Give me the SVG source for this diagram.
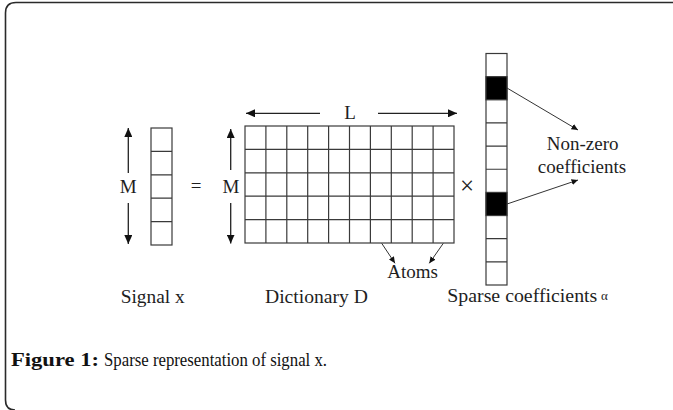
<svg xmlns="http://www.w3.org/2000/svg" width="673" height="410" viewBox="0 0 673 410">
<style>
.t{font-family:"Liberation Serif","Times New Roman",serif;font-size:19px;fill:#1e1e1e}
.cap{font-family:"Liberation Serif","Times New Roman",serif;font-size:19px;fill:#111}
.cell{fill:#fff;stroke:#3a3a3a;stroke-width:1.2}
.blk{fill:#000;stroke:#3a3a3a;stroke-width:1.2}
.grid{stroke:#3a3a3a;stroke-width:1.2;fill:none}
.ar{stroke:#222;stroke-width:1.3;fill:none}
.arS{stroke:#333;stroke-width:1;fill:none}
</style>
<defs>
<marker id="big" markerUnits="userSpaceOnUse" markerWidth="10" markerHeight="8" refX="9" refY="4" orient="auto">
<path d="M0,0 L9,4 L0,8 Z" fill="#111"/>
</marker>
<marker id="sm" markerUnits="userSpaceOnUse" markerWidth="7" markerHeight="6" refX="6.5" refY="3" orient="auto">
<path d="M0,0 L6.5,3 L0,6 Z" fill="#111"/>
</marker>
</defs>
<rect width="673" height="410" fill="#fff"/>
<path d="M15 410 Q5.5 410 5.5 400 L5.5 13 Q5.5 2.5 16 2.5 L673 2.5" fill="none" stroke="#2a2a2a" stroke-width="1.6"/>

<g id="signal">
<rect class="cell" x="151" y="128" width="21" height="117"/>
<path class="grid" d="M151 151.4H172M151 174.8H172M151 198.2H172M151 221.6H172"/>
<text class="t" x="128.3" y="193.3" text-anchor="middle">M</text>
<text class="t" x="120.7" y="303" textLength="64" lengthAdjust="spacingAndGlyphs">Signal x</text>
</g>

<g id="equals">
<text class="t" x="196" y="192" text-anchor="middle">=</text>
</g>

<g id="dictionary">
<rect class="cell" x="245" y="126" width="209" height="117"/>
<path class="grid" d="M265.9 126V243M286.8 126V243M307.7 126V243M328.6 126V243M349.5 126V243M370.4 126V243M391.3 126V243M412.2 126V243M433.1 126V243M245 149.4H454M245 172.8H454M245 196.2H454M245 219.6H454"/>
<text class="t" x="231" y="193.3" text-anchor="middle">M</text>
<text class="t" x="350" y="119.3" text-anchor="middle">L</text>
<text class="t" x="265" y="303" textLength="103" lengthAdjust="spacingAndGlyphs">Dictionary D</text>
</g>

<g id="times">
<text class="t" x="467" y="194" text-anchor="middle" style="font-size:25px">×</text>
</g>

<g id="sparse">
<rect class="cell" x="486" y="53.5" width="21" height="231.5"/>
<rect class="blk" x="486" y="76.65" width="21" height="23.15"/>
<rect class="blk" x="486" y="192.4" width="21" height="23.15"/>
<path class="grid" d="M486 122.95H507M486 146.1H507M486 169.25H507M486 238.7H507M486 261.85H507"/>
<text class="t" x="447.3" y="302" textLength="150" lengthAdjust="spacingAndGlyphs">Sparse coefficients</text>
<text class="t" x="601" y="300" style="font-size:13px">α</text>
</g>

<g id="nonzero">
<text class="t" x="582.7" y="150" text-anchor="middle">Non-zero</text>
<text class="t" x="582" y="173" text-anchor="middle">coefficients</text>
</g>

<g id="atoms">
<text class="t" x="412.5" y="278" text-anchor="middle">Atoms</text>
</g>

<g id="connectors">
<line class="ar" x1="128.3" y1="173" x2="128.3" y2="128" marker-end="url(#big)"/>
<line class="ar" x1="128.3" y1="203" x2="128.3" y2="244" marker-end="url(#big)"/>
<line class="ar" x1="230.7" y1="170" x2="230.7" y2="129" marker-end="url(#big)"/>
<line class="ar" x1="230.7" y1="203" x2="230.7" y2="243.5" marker-end="url(#big)"/>
<line class="ar" x1="320" y1="113.3" x2="246" y2="113.3" marker-end="url(#big)"/>
<line class="ar" x1="378" y1="113.3" x2="457" y2="113.3" marker-end="url(#big)"/>
<line class="arS" x1="507" y1="88" x2="578" y2="130" marker-end="url(#sm)"/>
<line class="arS" x1="507" y1="204" x2="578" y2="180" marker-end="url(#sm)"/>
<line class="arS" x1="381.7" y1="243.3" x2="395" y2="263.3" marker-end="url(#sm)"/>
<line class="arS" x1="443.3" y1="243.3" x2="429.3" y2="263.3" marker-end="url(#sm)"/>
</g>

<g id="caption">
<text class="cap" x="11" y="366" font-weight="bold" textLength="88" lengthAdjust="spacingAndGlyphs">Figure 1:</text>
<text class="cap" x="104" y="366" textLength="223" lengthAdjust="spacingAndGlyphs">Sparse representation of signal x.</text>
</g>
</svg>
